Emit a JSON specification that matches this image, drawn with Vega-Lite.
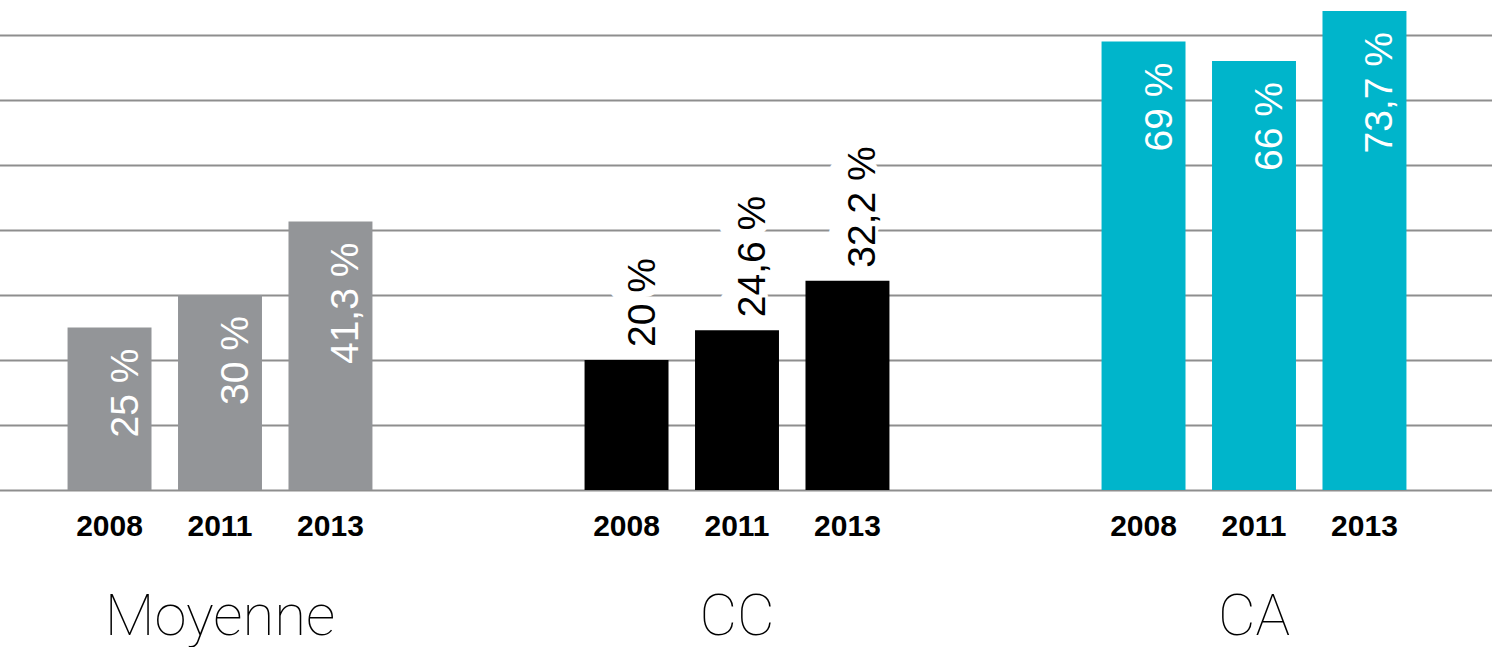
{
  "$schema": "https://vega.github.io/schema/vega-lite/v6.json",
  "width": 1479,
  "height": 490,
  "autosize": {"type": "none"},
  "padding": {"left": 13, "top": 0, "right": 0, "bottom": 157},
  "config": {"view": {"stroke": null}, "font": "Liberation Sans"},
  "data": {
    "values": [
      {"group": "Moyenne", "year": "2008", "value": 25, "label": "25 %"},
      {"group": "Moyenne", "year": "2011", "value": 30, "label": "30 %"},
      {"group": "Moyenne", "year": "2013", "value": 41.3, "label": "41,3 %"},
      {"group": "CC", "year": "2008", "value": 20, "label": "20 %"},
      {"group": "CC", "year": "2011", "value": 24.6, "label": "24,6 %"},
      {"group": "CC", "year": "2013", "value": 32.2, "label": "32,2 %"},
      {"group": "CA", "year": "2008", "value": 69, "label": "69 %"},
      {"group": "CA", "year": "2011", "value": 66, "label": "66 %"},
      {"group": "CA", "year": "2013", "value": 73.7, "label": "73,7 %"}
    ]
  },
  "encoding": {
    "x": {
      "field": "group",
      "type": "nominal",
      "sort": ["Moyenne", "CC", "CA"],
      "scale": {"range": [-51.5, 1499.5], "paddingInner": 0, "paddingOuter": 0},
      "axis": {
        "title": null,
        "domain": false,
        "ticks": false,
        "labelAngle": 0,
        "labelLimit": 0,
        "labelFont": "Roboto",
        "labelFontWeight": 100,
        "labelFontSize": 58,
        "labelColor": "#000000",
        "labelPadding": 98
      }
    },
    "xOffset": {
      "field": "year",
      "type": "nominal",
      "scale": {"paddingInner": 0.24, "paddingOuter": 0.96}
    },
    "y": {
      "field": "value",
      "type": "quantitative",
      "scale": {"domain": [0, 75.4], "nice": false},
      "axis": {
        "title": null,
        "labels": false,
        "ticks": false,
        "domain": false,
        "grid": true,
        "gridColor": "#8e8e8e",
        "gridWidth": 2,
        "values": [0, 10, 20, 30, 40, 50, 60, 70]
      }
    }
  },
  "layer": [
    {
      "mark": {"type": "bar"},
      "encoding": {
        "color": {
          "field": "group",
          "type": "nominal",
          "scale": {"domain": ["Moyenne", "CC", "CA"], "range": ["#939598", "#000000", "#00b5cb"]},
          "legend": null
        }
      }
    },
    {
      "mark": {"type": "text", "baseline": "middle", "dy": 37, "fontSize": 30, "fontWeight": "bold", "fill": "#000000"},
      "encoding": {"y": {"datum": 0}, "text": {"field": "year"}}
    },
    {
      "transform": [{"filter": "datum.group !== 'CC'"}],
      "mark": {"type": "text", "angle": 270, "align": "right", "baseline": "alphabetic", "dx": -21, "dy": 28, "fontSize": 39, "fill": "#ffffff"},
      "encoding": {"text": {"field": "label"}}
    },
    {
      "transform": [{"filter": "datum.group === 'CC'"}],
      "mark": {"type": "text", "angle": 270, "align": "left", "baseline": "alphabetic", "dx": 13, "dy": 20, "fontSize": 39, "fill": "#ffffff", "stroke": "#ffffff", "strokeWidth": 22, "strokeJoin": "round"},
      "encoding": {"text": {"field": "label"}}
    },
    {
      "transform": [{"filter": "datum.group === 'CC'"}],
      "mark": {"type": "text", "angle": 270, "align": "left", "baseline": "alphabetic", "dx": 13, "dy": 28, "fontSize": 39, "fill": "#000000"},
      "encoding": {"text": {"field": "label"}}
    }
  ]
}
